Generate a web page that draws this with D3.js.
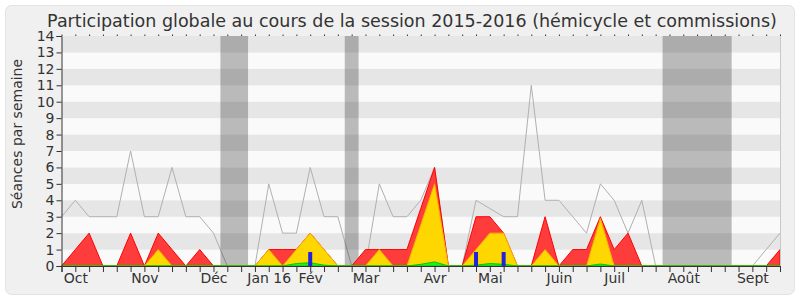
<!DOCTYPE html>
<html>
<head>
<meta charset="utf-8">
<script src="https://cdn.jsdelivr.net/npm/d3@7"></script>
<style>
  body { margin: 0; background: #fff; }
  text { font-family: "DejaVu Sans", sans-serif; fill: #333; }
  .axis path, .axis line { stroke: #333; }
</style>
</head>
<body>
<svg id="chart"></svg>
<script>
// weeks of the session, index 0 = first week of October 2015
const weeks = d3.range(53);

// grey line: all sessions per week
const totalSeances = [3, 4, 3, 3, 3, 7, 3, 3, 6, 3, 3, 2, 0, 0, 0, 5, 2, 2, 6, 3,
  3, 0, 0, 5, 3, 3, 4, 6, 0, 0, 4, 3.5, 3, 3, 11, 4, 4, 3, 2, 5,
  4, 2, 4, 0, 0, 0, 0, 0, 0, 0, 0, 1, 2];

// red area: presence (hemicycle + commissions)
const presences = [0, 1, 2, 0, 0, 2, 0, 2, 1, 0, 1, 0, 0, 0, 0, 1, 1, 1, 2, 1,
  0, 0, 1, 1, 1, 1, 3.5, 6, 0, 0, 3, 3, 2, 0, 0, 3, 0, 1, 1, 3,
  1, 2, 0, 0, 0, 0, 0, 0, 0, 0, 0, 0, 1];

// yellow area: hemicycle
const hemicycle = [0, 0, 0, 0, 0, 0, 0, 1, 0, 0, 0, 0, 0, 0, 0, 1, 0, 1, 2, 1,
  0, 0, 0, 1, 0, 0, 2.5, 5, 0, 0, 1, 2, 2, 0, 0, 1, 0, 0, 0, 2.9,
  0, 0, 0, 0, 0, 0, 0, 0, 0, 0, 0, 0, 0];

// green area: interventions
const interventions = [0, 0, 0, 0, 0, 0, 0, 0, 0, 0, 0, 0, 0, 0, 0, 0, 0, 0.15, 0.2, 0.05,
  0, 0, 0, 0, 0, 0, 0.1, 0.25, 0, 0, 0.05, 0.15, 0.1, 0, 0, 0, 0, 0, 0, 0.12,
  0, 0, 0, 0, 0, 0, 0, 0, 0, 0, 0, 0, 0];

// blue bars: questions
const questionWeeks = [18, 30, 32];
const questionValues = [0.85, 0.85, 0.85];

// holidays (week index start/end)
const vacances = [[11.5, 13.5], [20.5, 21.5], [43.5, 48.5]];

const monthLabels = ["Oct", "Nov", "Déc", "Jan 16", "Fév", "Mar", "Avr", "Mai", "Juin", "Juil", "Août", "Sept"];
const monthWeeks = [1, 6, 11, 15, 18, 22, 27, 31, 36, 40, 45, 50];

const yTicks = d3.range(0, 15);

class participationChart {
    constructor(_config) {
        this.config = {
            parentElement: _config.parentElement,
            containerWidth: _config.containerWidth || 800,
            containerHeight: _config.containerHeight || 300,
            margin: _config.margin || {top: 36, right: 20, bottom: 34, left: 61.5},
        };
        this.initVis();
    }

    initVis() {
        let vis = this;
        vis.width = vis.config.containerWidth - vis.config.margin.left - vis.config.margin.right;
        vis.height = vis.config.containerHeight - vis.config.margin.top - vis.config.margin.bottom;

        vis.svg = d3.select(vis.config.parentElement)
            .attr('width', vis.config.containerWidth)
            .attr('height', vis.config.containerHeight);

        // panel background
        vis.svg.append('rect')
            .attr('x', 5.5).attr('y', 5.5)
            .attr('width', 789).attr('height', 289)
            .attr('rx', 6)
            .attr('fill', '#f0f0f0')
            .attr('stroke', '#e2e2e2');

        vis.svg.append('text')
            .attr('x', 412)
            .attr('y', 27)
            .attr('text-anchor', 'middle')
            .style('font-size', '17.5px')
            .text('Participation globale au cours de la session 2015-2016 (hémicycle et commissions)');

        vis.chart = vis.svg.append('g')
            .attr('transform', `translate(${vis.config.margin.left},${vis.config.margin.top})`);

        vis.xScale = d3.scaleLinear()
            .domain([0, 52])
            .range([0, vis.width]);

        vis.yScale = d3.scaleLinear()
            .domain([0, 14])
            .range([vis.height, 0]);

        vis.updateVis();
    }

    updateVis() {
        let vis = this;

        vis.area = values => d3.area()
            .x((d, i) => vis.xScale(weeks[i]))
            .y0(vis.yScale(0))
            .y1(d => vis.yScale(d))(values);

        vis.line = d3.line()
            .x((d, i) => vis.xScale(weeks[i]))
            .y(d => vis.yScale(d));

        vis.renderVis();
    }

    renderVis() {
        let vis = this;

        // horizontal stripes
        vis.chart.selectAll('.stripe')
            .data(yTicks.slice(0, -1))
            .join('rect')
            .attr('class', 'stripe')
            .attr('x', 0)
            .attr('width', vis.width)
            .attr('y', d => vis.yScale(d + 1))
            .attr('height', d => vis.yScale(d) - vis.yScale(d + 1))
            .attr('fill', d => d % 2 === 1 ? '#e6e6e6' : '#fafafa');

        // total line
        vis.chart.append('path')
            .datum(totalSeances)
            .attr('d', vis.line)
            .attr('fill', 'none')
            .attr('stroke', '#b0b0b0')
            .attr('stroke-width', 1);

        // holidays
        vis.chart.selectAll('.vacances')
            .data(vacances)
            .join('rect')
            .attr('class', 'vacances')
            .attr('x', d => vis.xScale(d[0]))
            .attr('width', d => vis.xScale(d[1]) - vis.xScale(d[0]))
            .attr('y', 0)
            .attr('height', vis.height)
            .attr('fill', 'rgba(40,40,40,0.3)');

        vis.chart.append('path')
            .attr('d', vis.area(presences))
            .attr('fill', '#ff3c3c')
            .attr('stroke', '#ff0000');

        vis.chart.append('path')
            .attr('d', vis.area(hemicycle))
            .attr('fill', '#ffd700')
            .attr('stroke', '#f5b000');

        vis.chart.append('path')
            .attr('d', vis.area(interventions))
            .attr('fill', '#22ee22')
            .attr('stroke', '#00c800');

        vis.chart.selectAll('.question')
            .data(questionWeeks)
            .join('rect')
            .attr('class', 'question')
            .attr('x', d => vis.xScale(d) - 2)
            .attr('width', 4)
            .attr('y', (d, i) => vis.yScale(questionValues[i]))
            .attr('height', (d, i) => vis.yScale(0) - vis.yScale(questionValues[i]))
            .attr('fill', '#2222dd');

        // right border
        vis.chart.append('line')
            .attr('x1', vis.width + 0.5).attr('x2', vis.width + 0.5)
            .attr('y1', 0).attr('y2', vis.height)
            .attr('stroke', '#c8c8c8');

        // axes
        vis.chart.append('g')
            .attr('class', 'axis')
            .attr('transform', `translate(0,${vis.height})`)
            .call(d3.axisBottom(vis.xScale).tickValues(weeks).tickSize(6).tickFormat(''));

        vis.chart.append('g')
            .attr('class', 'axis months')
            .attr('transform', `translate(0,${vis.height})`)
            .call(d3.axisBottom(vis.xScale).tickValues(monthWeeks).tickSize(0).tickPadding(7)
                .tickFormat((d, i) => monthLabels[i]))
            .call(g => g.select('.domain').remove())
            .selectAll('text')
            .style('font-size', '14px')
            .attr('fill', '#333');

        vis.chart.append('g')
            .attr('class', 'axis top')
            .call(d3.axisTop(vis.xScale).tickValues(weeks).tickSize(1.5).tickFormat(''))
            .call(g => g.select('.domain').remove());

        vis.chart.append('g')
            .attr('class', 'axis')
            .call(d3.axisLeft(vis.yScale).tickValues(yTicks).tickSize(5).tickPadding(2)
                .tickFormat(d3.format('d')))
            .selectAll('text')
            .style('font-size', '14px')
            .attr('fill', '#333');

        vis.svg.append('text')
            .attr('transform', 'translate(22,134) rotate(-90)')
            .attr('text-anchor', 'middle')
            .style('font-size', '14px')
            .text('Séances par semaine');
    }
}

new participationChart({parentElement: '#chart'});
</script>
</body>
</html>
